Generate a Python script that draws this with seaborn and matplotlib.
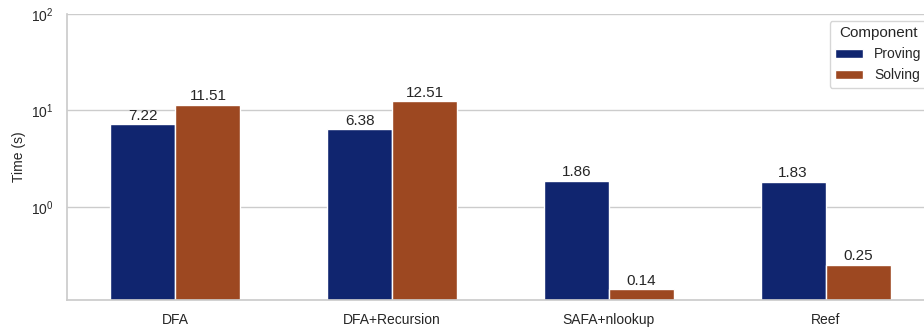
import matplotlib
matplotlib.use("Agg")
import matplotlib.pyplot as plt
import seaborn as sns
import pandas as pd

systems = ["DFA", "DFA+Recursion", "SAFA+nlookup", "Reef"]
proving = [7.22, 6.38, 1.86, 1.83]
solving = [11.51, 12.51, 0.14, 0.25]
components = ["Proving", "Solving"]

df = pd.DataFrame({
    "System": systems * 2,
    "Component": [components[0]] * len(systems) + [components[1]] * len(systems),
    "Time (s)": proving + solving,
})

sns.set_theme(style="whitegrid", palette="dark")
plt.rcParams["font.family"] = ["Liberation Sans", "DejaVu Sans"]

fig = plt.figure(figsize=(9.24, 3.29), dpi=100)
ax = fig.add_axes([67 / 924, 29 / 329, (934 - 67) / 924, (300 - 14) / 329])

sns.barplot(data=df, x="System", y="Time (s)", hue="Component",
            width=0.6, ax=ax)
ax.set_yscale("log")
ax.set_ylim(0.108, 100)
ax.set_xlabel("")
ax.set_ylabel("Time (s)", fontsize=10)
ax.tick_params(axis="both", labelsize=10)
ax.minorticks_off()

for cont in ax.containers:
    ax.bar_label(cont, fmt="%.2f", fontsize=11, padding=1)

sns.despine(ax=ax, top=True, right=True)

leg = ax.legend(title="Component", loc="upper right", fontsize=10,
                title_fontsize=11, bbox_to_anchor=(1.0, 1.0))

fig.savefig("out.png", dpi=100)
